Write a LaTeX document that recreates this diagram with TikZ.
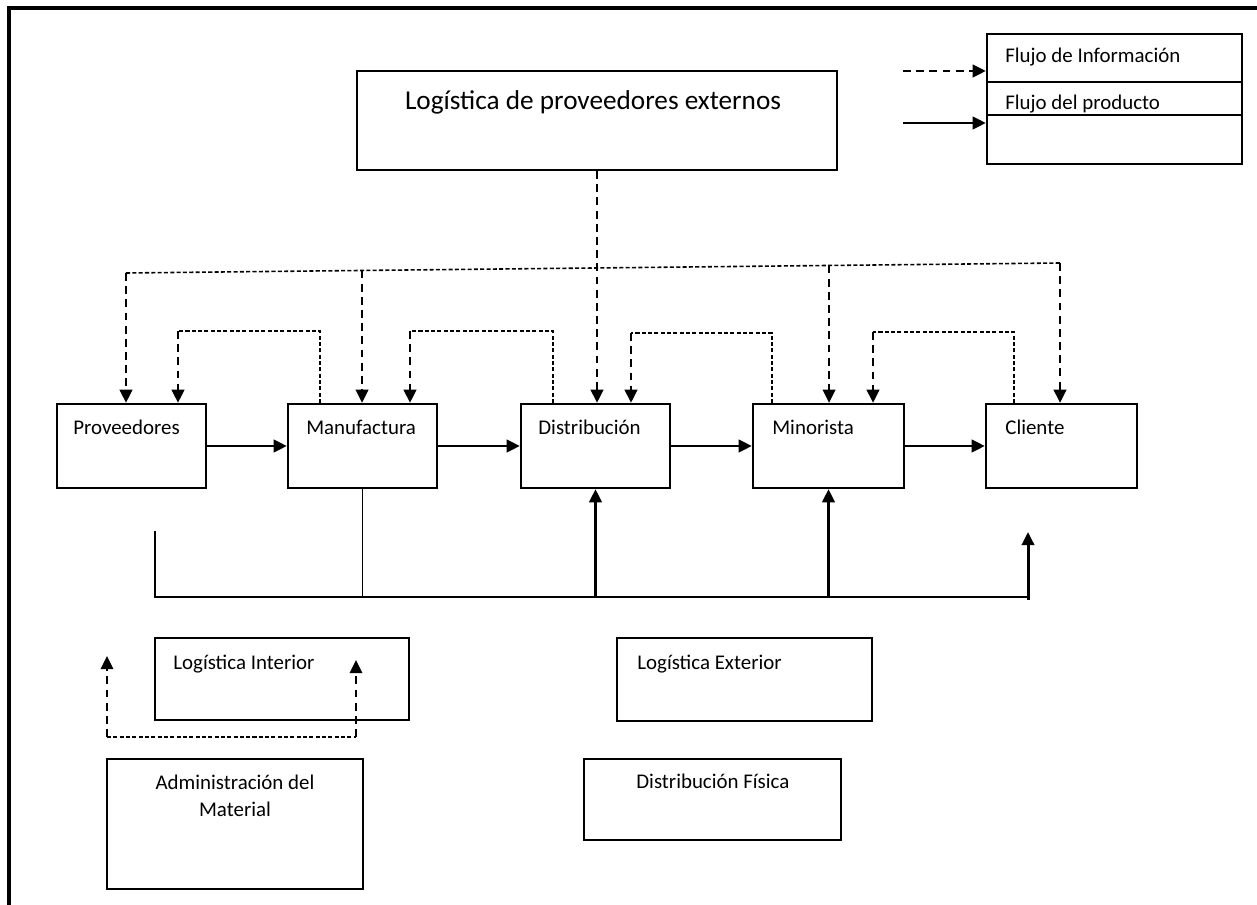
\documentclass[tikz,border=0pt]{standalone}
\usepackage{fontspec}
\setmainfont{Carlito}
\usetikzlibrary{arrows.meta,fit,calc}

\begin{document}
\begin{tikzpicture}[x=0.02cm,y=-0.02cm,
  box/.style={draw, line width=1.25pt, inner sep=0pt},
  lbl/.style={anchor=base west, inner sep=0pt, font=\fontsize{11.9pt}{15.3pt}\selectfont},
  tip/.style={-{Triangle[length=7.5pt,width=7pt]}},
  prod/.style={line width=1.7pt, tip},
  thinline/.style={line width=1.1pt},
  info/.style={line width=1.5pt, dash pattern=on 4.5pt off 3pt, tip},
  infoline/.style={line width=0.9pt, dash pattern=on 2.3pt off 1.3pt},
]
\useasboundingbox (0,0) rectangle (1257,905);

% page frame (top and left edges)
\draw[line width=1.8pt] (1257,8) -- (9,8) -- (9,905);

% external suppliers box
\node[box, fit={(357,71) (837,170)}] (ext) {};
\node[anchor=base, inner sep=0pt, font=\fontsize{15.5pt}{18pt}\selectfont] (ext-t) at (593,110) {Logística de proveedores externos};

% legend
\node[box, fit={(987,34) (1242,164)}] (leg) {};
\coordinate (leg1) at (0,82);
\coordinate (leg2) at (0,115);
\draw[line width=1.25pt] (leg.west |- leg1) -- (leg.east |- leg1);
\draw[line width=1.25pt] (leg.west |- leg2) -- (leg.east |- leg2);
\node[lbl] (leg-info) at (1005,63) {Flujo de Información};
\node[lbl] (leg-prod) at (1005,110) {Flujo del producto};
\coordinate (li) at (903,71);
\coordinate (lp) at (903,123);
\draw[info] (li) -- (leg.west |- li);
\draw[prod] (lp) -- (leg.west |- lp);

% supply chain stages
\node[box, fit={(57,404) (206,488)}] (prov) {};
\node[box, fit={(288,404) (437,488)}] (manu) {};
\node[box, fit={(521,404) (670,488)}] (dist) {};
\node[box, fit={(753,404) (904,488)}] (mino) {};
\node[box, fit={(986,404) (1137,488)}] (cli) {};
\node[lbl] (prov-t) at (73,434) {Proveedores};
\node[lbl] (manu-t) at (306,434) {Manufactura};
\node[lbl] (dist-t) at (538,434) {Distribución};
\node[lbl] (mino-t) at (772,434) {Minorista};
\node[lbl] (cli-t) at (1005,434) {Cliente};

% product flow
\draw[prod] (prov.east) -- (manu.west);
\draw[prod] (manu.east) -- (dist.west);
\draw[prod] (dist.east) -- (mino.west);
\draw[prod] (mino.east) -- (cli.west);

% information flow from external suppliers
\draw[info] (ext.south) -- (ext.south |- dist.north);
\coordinate (iL) at (126,273);
\coordinate (iR) at (1060,263);
\coordinate (iM) at ($(iL)!0.2527!(iR)$);
\coordinate (iN) at ($(iL)!0.7527!(iR)$);
\draw[infoline] (iL) -- (iR);
\draw[info] (iL) -- (iL |- prov.north);
\draw[info] (iM) -- (iM |- manu.north);
\draw[info] (iN) -- (iN |- mino.north);
\draw[info] (iR) -- (iR |- cli.north);

% information feedback between neighbouring stages
\coordinate (f1a) at (320,331); \coordinate (f1b) at (178,331);
\draw[infoline] (manu.north -| f1a) -- (f1a) -- (f1b);
\draw[info] (f1b) -- (f1b |- prov.north);
\coordinate (f2a) at (553,331); \coordinate (f2b) at (410,331);
\draw[infoline] (dist.north -| f2a) -- (f2a) -- (f2b);
\draw[info] (f2b) -- (f2b |- manu.north);
\coordinate (f3a) at (772,333); \coordinate (f3b) at (631,333);
\draw[infoline] (mino.north -| f3a) -- (f3a) -- (f3b);
\draw[info] (f3b) -- (f3b |- dist.north);
\coordinate (f4a) at (1014,332); \coordinate (f4b) at (873,332);
\draw[infoline] (cli.north -| f4a) -- (f4a) -- (f4b);
\draw[info] (f4b) -- (f4b |- mino.north);

% lower product distribution line
\coordinate (bLtop) at (155,531);
\coordinate (bL) at (155,597);
\coordinate (bR) at (1028,597);
\coordinate (bRlow) at (1028,600);
\coordinate (bRtop) at (1028,532);
\draw[thinline] (bLtop) -- (bL) -- (bR);
\draw[thinline] (manu.south) -- (manu.south |- bL);
\draw[prod] (dist.south |- bL) -- (dist.south);
\draw[prod] (mino.south |- bL) -- (mino.south);
\draw[prod] (bRlow) -- (bRtop);

% logistics areas
\node[box, fit={(155,638) (409,720)}] (intr) {};
\node[lbl] (intr-t) at (173,669) {Logística Interior};
\node[box, fit={(617,638) (872,721)}] (extr) {};
\node[lbl] (extr-t) at (637,669) {Logística Exterior};
\node[box, fit={(584,759) (841,840)}] (dfis) {};
\node[lbl] (dfis-t) at (636,788) {Distribución Física};
\node[box, fit={(107,759) (363,889)}] (adm) {};
\node[anchor=base, inner sep=0pt, align=center, font=\fontsize{11.9pt}{15.3pt}\selectfont] (adm-t) at (235,816) {Administración del\\Material};

% inbound information loop
\coordinate (aL) at (107,737);
\coordinate (aR) at (356,737);
\coordinate (aLt) at (107,656);
\coordinate (aRt) at (356,660);
\draw[infoline] (aL) -- (aR);
\draw[info] (aL) -- (aLt);
\draw[info] (aR) -- (aRt);
\end{tikzpicture}
\end{document}
